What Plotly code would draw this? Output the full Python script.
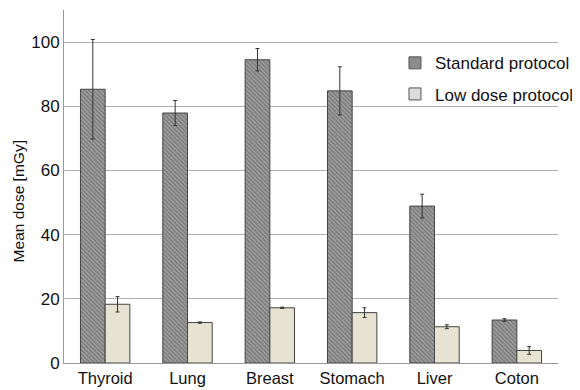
import plotly.graph_objects as go

organs = ["Thyroid", "Lung", "Breast", "Stomach", "Liver", "Coton"]
standard = [85.3, 77.9, 94.5, 84.8, 48.9, 13.4]
standard_err = [15.5, 3.9, 3.5, 7.5, 3.7, 0.4]
low_dose = [18.3, 12.6, 17.2, 15.7, 11.3, 3.9]
low_dose_err = [2.4, 0.2, 0.2, 1.5, 0.6, 1.2]

fig = go.Figure()
fig.add_trace(go.Bar(
    x=organs, y=standard, name="Standard protocol", showlegend=False,
    offsetgroup="std", legendgroup="std",
    marker=dict(color="#8e8e8e", line=dict(color="#444444", width=1),
                pattern=dict(shape="\\", size=3, solidity=0.45, fgcolor="#4a4a4a", bgcolor="#a0a0a0")),
    error_y=dict(type="data", array=standard_err, color="#333333", thickness=1, width=2),
))
fig.add_trace(go.Bar(
    x=organs, y=low_dose, name="Low dose protocol", showlegend=False,
    offsetgroup="low", legendgroup="low",
    marker=dict(color="#e6e3d3", line=dict(color="#444444", width=1)),
    error_y=dict(type="data", array=low_dose_err, color="#333333", thickness=1, width=2),
))
# legend-only entries with solid swatches
fig.add_trace(go.Bar(x=[organs[0]], y=[None], name="Standard protocol", offsetgroup="std",
                     legendgroup="std",
                     marker=dict(color="#8c8c8c", line=dict(color="#555555", width=1))))
fig.add_trace(go.Bar(x=[organs[0]], y=[None], name="Low dose protocol", offsetgroup="low",
                     legendgroup="low",
                     marker=dict(color="#dcdcdc", line=dict(color="#555555", width=1))))

# page body has an 8px default margin, so the figure is 572x382 placed at (8, 8)
fig.update_layout(
    width=572, height=382,
    margin=dict(l=56, r=10, t=2, b=27),
    plot_bgcolor="white", paper_bgcolor="white",
    barmode="group", bargap=0.4, bargroupgap=0,
    font=dict(family="Liberation Sans, Arial, sans-serif", color="#111111", size=16),
    legend=dict(x=0.67, y=0.90, xanchor="left", yanchor="top", bgcolor="rgba(0,0,0,0)",
                font=dict(size=17), tracegroupgap=6, itemwidth=30),
    xaxis=dict(showline=True, linecolor="#999999", linewidth=1, ticks="",
               tickfont=dict(size=16.5), automargin=False),
    yaxis=dict(range=[0, 110], tickvals=[0, 20, 40, 60, 80, 100], showgrid=True,
               gridcolor="#b0b0b0", gridwidth=1, showline=True, linecolor="#999999",
               zeroline=False, ticks="", tickfont=dict(size=17), automargin=False),
    annotations=[dict(text="Mean dose [mGy]", xref="paper", yref="paper", x=-0.093, y=0.458,
                      xanchor="center", yanchor="middle", textangle=-90, showarrow=False,
                      font=dict(size=15.5, color="#111111"))],
)
fig.write_html("out.html")
